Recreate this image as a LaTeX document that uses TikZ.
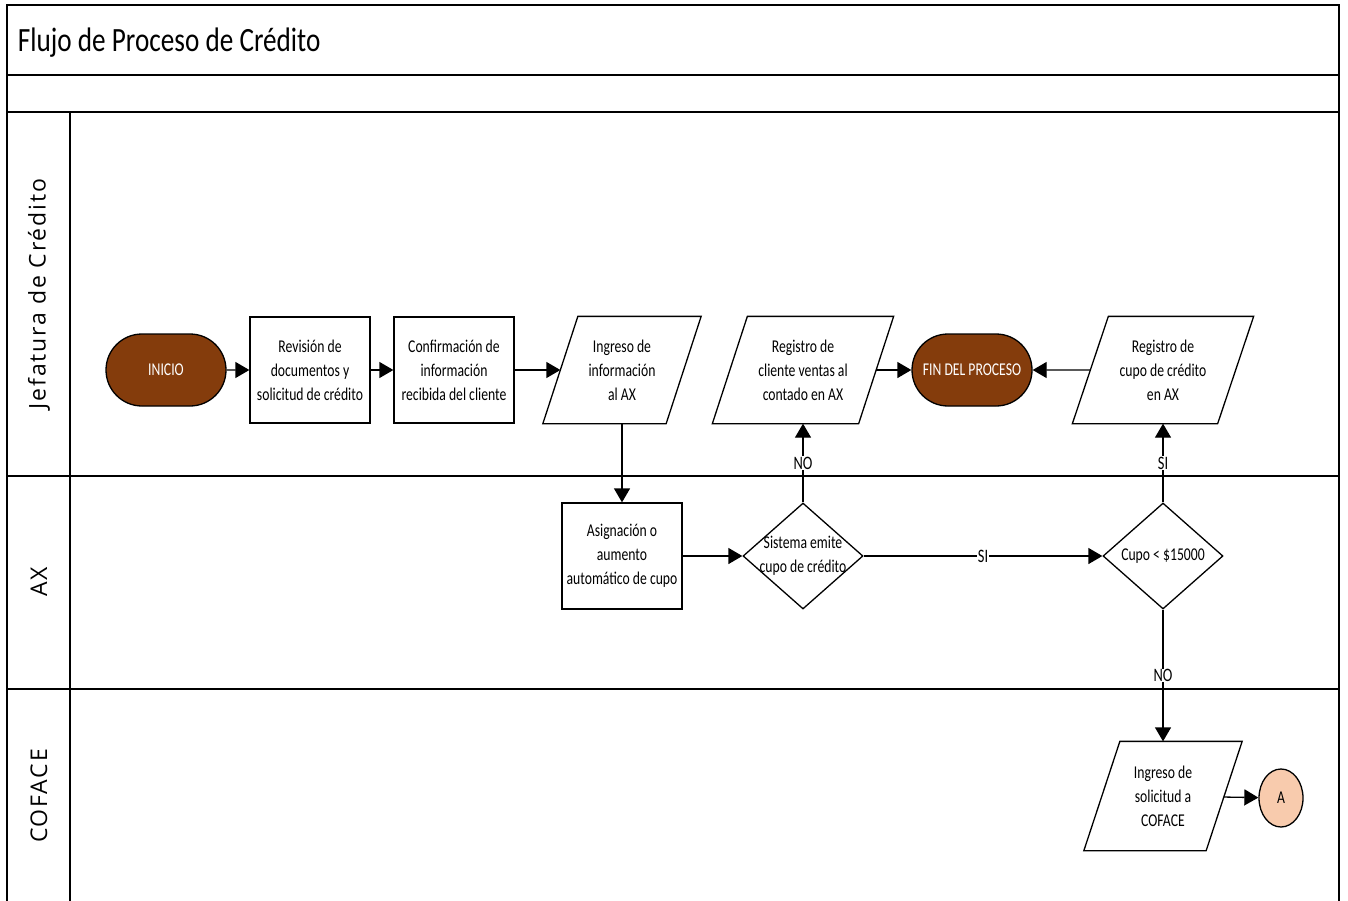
\documentclass[tikz,border=0pt]{standalone}
\usepackage{fontspec}
\setmainfont{Carlito}[FakeStretch=0.76]
\newfontfamily\titlefont{Carlito}[FakeStretch=0.8]
\newfontfamily\lanefont{Open Sans}[LetterSpace=8]
\usetikzlibrary{arrows.meta,shapes.geometric,shapes.misc}
\definecolor{brownfill}{HTML}{843C0C}
\definecolor{peach}{HTML}{F8CBAD}

\begin{document}
\begin{tikzpicture}[x=1pt,y=-1pt,
  line width=1.3pt,
  txt/.style={font=\fontsize{18}{24}\selectfont, align=center, text=black},
  proc/.style={txt, draw, fill=white, minimum width=120pt, minimum height=106pt, inner sep=0pt},
  term/.style={rounded rectangle, draw, fill=brownfill, minimum width=120pt, minimum height=72pt,
    inner sep=0pt, font=\fontsize{18}{24}\selectfont, text=white},
  io/.style={txt, minimum height=106pt, inner sep=0pt},
  decision/.style={diamond, draw, fill=white, minimum width=120pt, minimum height=106pt, inner sep=0pt},
  flow/.style={-{Triangle[length=14pt,width=16pt]}},
  tag/.style={txt, font=\fontsize{19}{24}\selectfont, fill=white, inner sep=0.5pt},
  lane/.style={font=\lanefont\fontsize{23}{27}\selectfont, rotate=90},
]
\useasboundingbox (0,0) rectangle (1348,901);

% pool frame and swimlanes
\draw[line width=1.6pt] (7,901) -- (7,5) -- (1339,5) -- (1339,901);
\draw (7,75) -- (1339,75);
\draw (7,112) -- (1339,112);
\draw (7,476) -- (1339,476);
\draw (7,689) -- (1339,689);
\draw (70,112) -- (70,901);

\node[anchor=base west, font=\titlefont\fontsize{34}{40}\selectfont] (title) at (14,52) {Flujo de Proceso de Crédito};

\node[lane] (lane1) at (39,294) {Jefatura de Crédito};
\node[lane] (lane2) at (39,582) {AX};
\node[lane] (lane3) at (39,796) {COFACE};

% process nodes
\node[term] (inicio) at (166,370) {INICIO};
\node[proc] (rev) at (310,370) {Revisión de\\documentos y\\solicitud de crédito};
\node[proc] (conf) at (454,370) {Confirmación de\\información\\recibida del cliente};
\node[io, minimum width=122pt] (ing) at (622,370) {Ingreso de\\información\\al AX};
\node[io, minimum width=145pt] (regcli) at (803,370) {Registro de\\cliente ventas al\\contado en AX};
\node[term] (fin) at (972,370) {FIN DEL PROCESO};
\node[io, minimum width=144pt] (regcupo) at (1163,370) {Registro de\\cupo de crédito\\en AX};
\node[proc] (asig) at (622,556) {Asignación o\\aumento\\automático de cupo};
\node[decision, label={[txt]center:{Sistema emite\\cupo de crédito}}] (sist) at (803,556) {};
\node[decision, label={[txt]center:{Cupo < \$15000}}] (cupo) at (1163,556) {};
\node[io, minimum width=121pt, minimum height=108pt] (sol) at (1163,796) {Ingreso de\\solicitud a\\COFACE};
\node[ellipse, draw, fill=peach, minimum width=44pt, minimum height=58pt, inner sep=0pt, txt] (a) at (1281,798) {A};

% data (parallelogram) outlines
\foreach \n/\s in {ing/17.5, regcli/17.5, regcupo/18, sol/18}
  \draw ([xshift=\s pt]\n.north west) -- ([xshift=\s pt]\n.north east)
     -- ([xshift=-\s pt]\n.south east) -- ([xshift=-\s pt]\n.south west) -- cycle;

% connectors
\draw[flow] (inicio) -- (rev);
\draw[flow] (rev) -- (conf);
\draw[flow] (conf) -- (ing);
\draw[flow] (ing) -- (asig);
\draw[flow] (asig) -- (sist);
\draw[flow] (sist) -- node[tag] {SI} (cupo);
\draw[flow] (sist) -- node[tag] {NO} (regcli);
\draw[flow] (regcli) -- (fin);
\draw[flow] (regcupo) -- (fin);
\draw[flow] (cupo) -- node[tag] {SI} (regcupo);
\draw[flow] (cupo) -- node[tag] {NO} (sol);
\draw[flow] (sol) -- (a);
\end{tikzpicture}
\end{document}
